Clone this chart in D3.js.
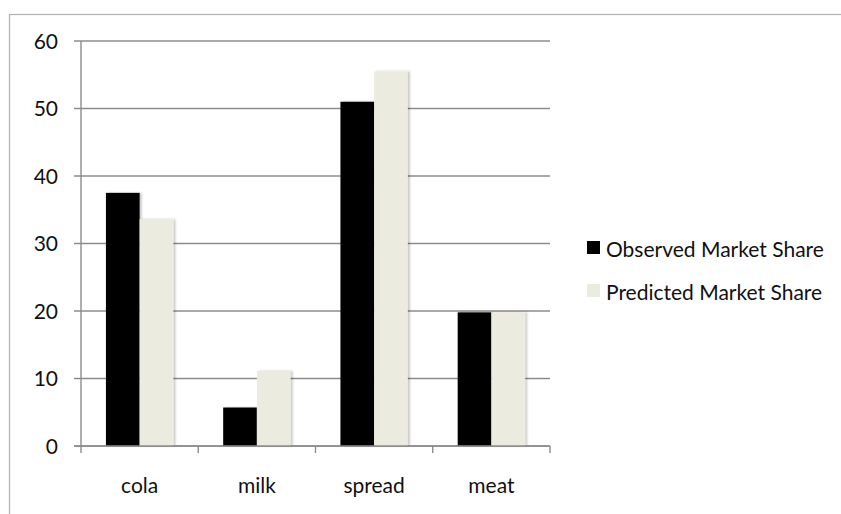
<!DOCTYPE html>
<html>
<head>
<meta charset="utf-8">
<script src="https://cdn.jsdelivr.net/npm/d3@7"></script>
<style>
  body { margin: 0; background: #fff; }
  text { font-family: Lato, "Open Sans", sans-serif; fill: #111; }
</style>
</head>
<body>
<svg id="chart" width="841" height="514"></svg>
<script>
// chart data
var categories = ["cola", "milk", "spread", "meat"];
var seriesNames = ["Observed Market Share", "Predicted Market Share"];
var observed = [37.5, 5.7, 51.0, 19.8];
var predicted = [33.6, 11.1, 55.5, 19.8];
var yTicks = [0, 10, 20, 30, 40, 50, 60];

var colors = ["#000000", "#ecebe0"];
var values = [observed, predicted];

var svg = d3.select("#chart");

// outer frame of the chart, runs off the right and bottom edges
svg.append("rect")
    .attr("x", 9.5).attr("y", 14.5)
    .attr("width", 900).attr("height", 600)
    .attr("fill", "none")
    .attr("stroke", "#b0b0b0")
    .attr("stroke-width", 1.2);

var defs = svg.append("defs");
defs.append("filter")
    .attr("id", "shadow")
    .attr("x", "-20%").attr("y", "-5%")
    .attr("width", "150%").attr("height", "110%")
  .append("feDropShadow")
    .attr("dx", 2).attr("dy", 0)
    .attr("stdDeviation", 1.2)
    .attr("flood-color", "#000")
    .attr("flood-opacity", 0.22);

var plot = { left: 81, right: 550, top: 41, bottom: 446 };

var x = d3.scaleBand()
    .domain(categories)
    .range([plot.left, plot.right])
    .padding(0);

var xInner = d3.scaleBand()
    .domain(d3.range(seriesNames.length))
    .range([0, x.bandwidth()])
    .paddingInner(0)
    .paddingOuter(0.74);

var y = d3.scaleLinear()
    .domain([0, 60])
    .range([plot.bottom, plot.top]);

// gridlines with their little ticks left of the axis
svg.append("g").selectAll("line")
    .data(yTicks)
  .enter().append("line")
    .attr("x1", plot.left - 7)
    .attr("x2", plot.right)
    .attr("y1", function (d) { return y(d); })
    .attr("y2", function (d) { return y(d); })
    .attr("stroke", "#8c8c8c")
    .attr("stroke-width", 1.4);

// y axis labels
svg.append("g").selectAll("text")
    .data(yTicks)
  .enter().append("text")
    .attr("x", 58)
    .attr("y", function (d) { return y(d); })
    .attr("dy", "0.38em")
    .attr("text-anchor", "end")
    .attr("font-size", 21)
    .text(function (d) { return d; });

// bars
var groups = svg.append("g").selectAll("g")
    .data(categories)
  .enter().append("g")
    .attr("transform", function (d) { return "translate(" + x(d) + ",0)"; });

groups.selectAll("rect")
    .data(function (d, i) {
        return values.map(function (v, s) { return { s: s, v: v[i] }; });
    })
  .enter().append("rect")
    .attr("x", function (d) { return xInner(d.s); })
    .attr("width", xInner.bandwidth())
    .attr("y", function (d) { return y(d.v); })
    .attr("height", function (d) { return y(0) - y(d.v); })
    .attr("fill", function (d) { return colors[d.s]; })
    .attr("filter", "url(#shadow)");

// vertical axis line
svg.append("line")
    .attr("x1", plot.left).attr("x2", plot.left)
    .attr("y1", plot.top).attr("y2", plot.bottom)
    .attr("stroke", "#8c8c8c")
    .attr("stroke-width", 1.4);

// bottom axis line and category boundary ticks
svg.append("line")
    .attr("x1", plot.left - 7).attr("x2", plot.right)
    .attr("y1", plot.bottom).attr("y2", plot.bottom)
    .attr("stroke", "#8c8c8c")
    .attr("stroke-width", 1.4);

var boundaries = categories.map(function (c) { return x(c); }).concat([plot.right]);
svg.append("g").selectAll("line")
    .data(boundaries)
  .enter().append("line")
    .attr("x1", function (d) { return d; })
    .attr("x2", function (d) { return d; })
    .attr("y1", plot.bottom)
    .attr("y2", plot.bottom + 7)
    .attr("stroke", "#8c8c8c")
    .attr("stroke-width", 1.4);

// category labels
svg.append("g").selectAll("text")
    .data(categories)
  .enter().append("text")
    .attr("x", function (d) { return x(d) + x.bandwidth() / 2; })
    .attr("y", 493)
    .attr("text-anchor", "middle")
    .attr("font-size", 21)
    .text(function (d) { return d; });

// legend
var legend = svg.append("g").selectAll("g")
    .data(seriesNames)
  .enter().append("g")
    .attr("transform", function (d, i) { return "translate(587," + (241 + i * 43) + ")"; });

legend.append("rect")
    .attr("width", 13).attr("height", 13)
    .attr("fill", function (d, i) { return colors[i]; });

legend.append("text")
    .attr("x", 19)
    .attr("y", 15.5)
    .attr("font-size", 21)
    .text(function (d) { return d; });
</script>
</body>
</html>
